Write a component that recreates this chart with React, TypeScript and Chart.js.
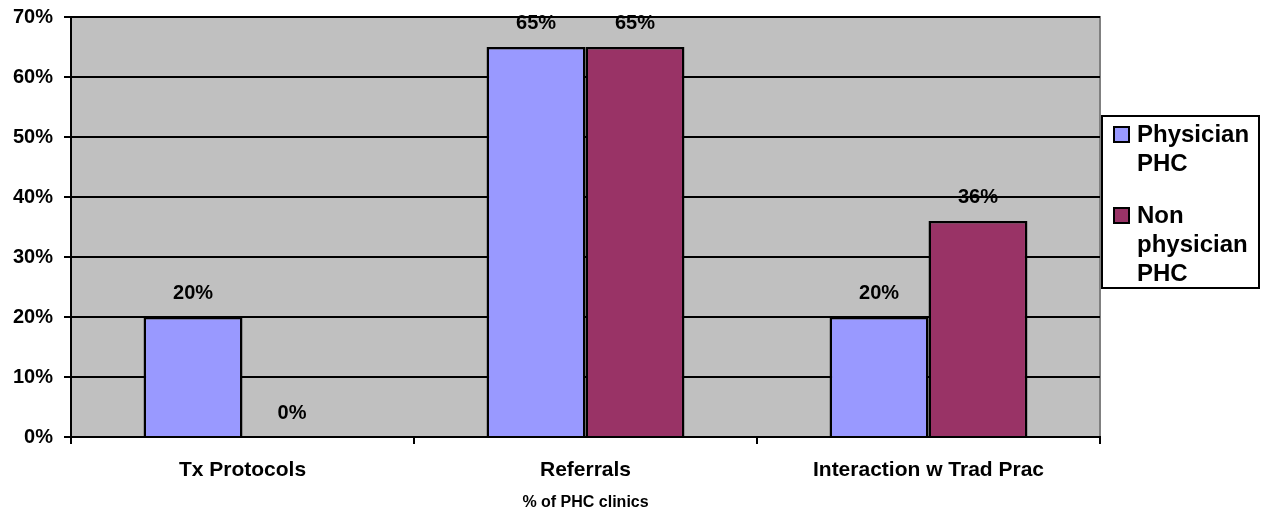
import { useEffect, useRef } from 'react';
import { Chart, ChartConfiguration, Plugin, registerables } from 'chart.js';

Chart.register(...registerables);

const categories = ['Tx Protocols', 'Referrals', 'Interaction w Trad Prac'];
const physicianPhc = [0.2, 0.65, 0.2];
const nonPhysicianPhc = [0, 0.65, 0.36];
const yTicks = [0, 0.1, 0.2, 0.3, 0.4, 0.5, 0.6, 0.7];
const legendLines = [
  ['Physician', 'PHC'],
  ['Non', 'physician', 'PHC'],
];

const FONT = 'Arial, "Liberation Sans", sans-serif';

const plotBackground: Plugin<'bar'> = {
  id: 'plotBackground',
  beforeDraw(chart) {
    const { ctx, chartArea } = chart;
    ctx.save();
    ctx.fillStyle = '#C0C0C0';
    ctx.fillRect(chartArea.left, chartArea.top, chartArea.right - chartArea.left, chartArea.bottom - chartArea.top);
    ctx.strokeStyle = '#808080';
    ctx.lineWidth = 2;
    ctx.beginPath();
    ctx.moveTo(chartArea.left, chartArea.top);
    ctx.lineTo(chartArea.right, chartArea.top);
    ctx.lineTo(chartArea.right, chartArea.bottom);
    ctx.stroke();
    ctx.restore();
  },
};

const valueLabels: Plugin<'bar'> = {
  id: 'valueLabels',
  afterDatasetsDraw(chart) {
    const { ctx } = chart;
    ctx.save();
    ctx.font = `bold 20px ${FONT}`;
    ctx.fillStyle = '#000';
    ctx.textAlign = 'center';
    ctx.textBaseline = 'middle';
    chart.data.datasets.forEach((ds, i) => {
      chart.getDatasetMeta(i).data.forEach((bar, j) => {
        const v = ds.data[j] as number;
        ctx.fillText(`${Math.round(v * 100)}%`, bar.x, bar.y - 24);
      });
    });
    ctx.restore();
  },
};

// legend box to the right of the plot, with wrapped labels
const boxLegend: Plugin<'bar'> = {
  id: 'boxLegend',
  afterDraw(chart) {
    const { ctx } = chart;
    const left = 1102;
    const top = 116;
    const width = 157;
    const height = 172;
    ctx.save();
    ctx.fillStyle = '#fff';
    ctx.fillRect(left, top, width, height);
    ctx.strokeStyle = '#000';
    ctx.lineWidth = 2;
    ctx.strokeRect(left, top, width, height);
    ctx.font = `bold 24px ${FONT}`;
    ctx.textBaseline = 'middle';
    ctx.textAlign = 'left';
    let y = top + 18;
    chart.data.datasets.forEach((ds, i) => {
      ctx.fillStyle = ds.backgroundColor as string;
      ctx.fillRect(left + 12, y - 7, 15, 15);
      ctx.lineWidth = 2;
      ctx.strokeStyle = '#000';
      ctx.strokeRect(left + 12, y - 7, 15, 15);
      ctx.fillStyle = '#000';
      legendLines[i].forEach((line, k) => {
        ctx.fillText(line, left + 35, y + 1 + k * 29);
      });
      y += legendLines[i].length * 29 + 23;
    });
    ctx.restore();
  },
};

export default function App() {
  const canvasRef = useRef<HTMLCanvasElement | null>(null);
  const chartRef = useRef<Chart<'bar'> | null>(null);

  useEffect(() => {
    if (!canvasRef.current) {
      return;
    }
    const ctx = canvasRef.current.getContext('2d');
    if (!ctx) {
      return;
    }
    const config: ChartConfiguration<'bar', number[], string> = {
      type: 'bar',
      data: {
        labels: categories,
        datasets: [
          {
            label: 'Physician PHC',
            data: physicianPhc,
            backgroundColor: '#9999FF',
            borderColor: '#000',
            borderWidth: 2.5,
            categoryPercentage: 0.577,
            barPercentage: 1,
          },
          {
            label: 'Non physician PHC',
            data: nonPhysicianPhc,
            backgroundColor: '#993366',
            borderColor: '#000',
            borderWidth: 2.5,
            categoryPercentage: 0.577,
            barPercentage: 1,
          },
        ],
      },
      options: {
        responsive: false,
        animation: false,
        layout: {
          padding: { top: 17, right: 164, bottom: 0, left: 0 },
        },
        scales: {
          x: {
            afterFit: (axis) => {
              axis.height = 75;
            },
            grid: {
              display: true,
              drawOnChartArea: false,
              drawTicks: true,
              tickLength: 7,
              color: '#000',
              lineWidth: 2,
            },
            border: { color: '#000', width: 2 },
            ticks: {
              color: '#000',
              font: { family: FONT, size: 21, weight: 'bold' },
              padding: 14,
            },
            title: {
              display: true,
              text: '% of PHC clinics',
              color: '#000',
              font: { family: FONT, size: 16, weight: 'bold' },
              padding: { top: 10, bottom: 0 },
            },
          },
          y: {
            min: 0,
            max: 0.7,
            afterFit: (axis) => {
              axis.width = 71;
              axis.paddingTop = 0;
              axis.paddingBottom = 0;
            },
            afterBuildTicks: (axis) => {
              axis.ticks = yTicks.map((value) => ({ value }));
            },
            grid: {
              color: '#000',
              lineWidth: 2,
              tickLength: 7,
            },
            border: { color: '#000', width: 2 },
            ticks: {
              color: '#000',
              font: { family: FONT, size: 20, weight: 'bold' },
              padding: 11,
              callback: (value) => `${Math.round(Number(value) * 100)}%`,
            },
          },
        },
        plugins: {
          legend: { display: false },
          tooltip: { enabled: false },
        },
      },
      plugins: [plotBackground, valueLabels, boxLegend],
    };

    chartRef.current?.destroy();
    chartRef.current = new Chart(ctx, config);

    return () => {
      chartRef.current?.destroy();
      chartRef.current = null;
    };
  }, []);

  return (
    <div style={{ position: 'absolute', left: 0, top: 0, width: '1264px', height: '512px', background: '#fff' }}>
      <canvas ref={canvasRef} width={1264} height={512} aria-label="% of PHC clinics" role="img" />
    </div>
  );
}
